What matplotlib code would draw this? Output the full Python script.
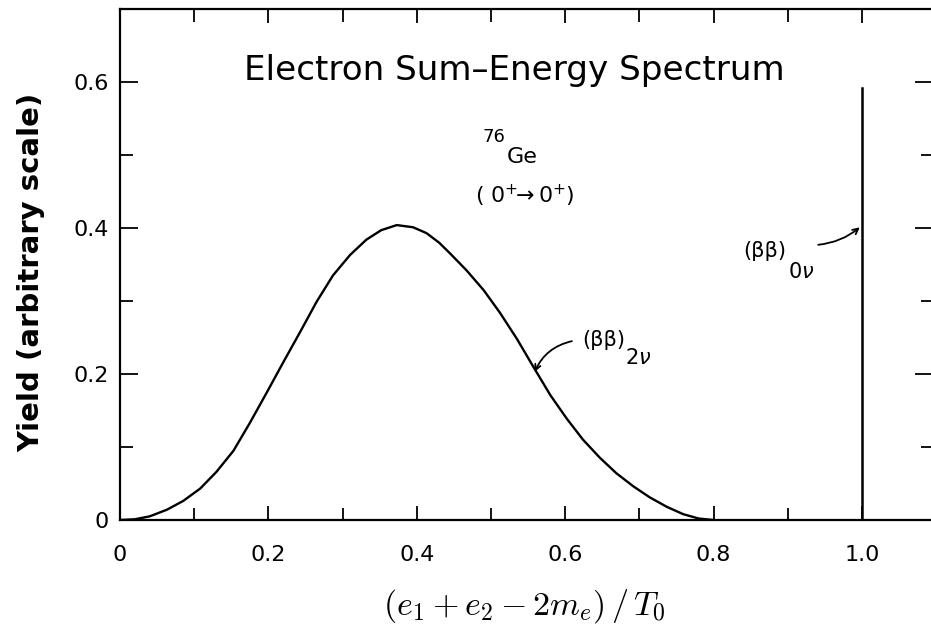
import matplotlib
matplotlib.use("Agg")
import matplotlib.pyplot as plt
from matplotlib.ticker import MultipleLocator, FixedLocator
import matplotlib.font_manager as fm

# --- data ---
x_2nu = [0.0, 0.02, 0.04, 0.063, 0.085, 0.108, 0.13, 0.153, 0.175, 0.198, 0.22, 0.243,
         0.265, 0.287, 0.31, 0.332, 0.352, 0.373, 0.395, 0.413, 0.43, 0.445, 0.467, 0.49,
         0.512, 0.535, 0.557, 0.58, 0.602, 0.624, 0.647, 0.669, 0.692, 0.714,
         0.737, 0.759, 0.78, 0.80]
y_2nu = [0.0, 0.001, 0.005, 0.014, 0.026, 0.043, 0.066, 0.095, 0.133, 0.175, 0.216, 0.258,
         0.299, 0.335, 0.363, 0.384, 0.397, 0.404, 0.401, 0.393, 0.380, 0.365, 0.342, 0.315,
         0.284, 0.248, 0.210, 0.171, 0.139, 0.110, 0.085, 0.064, 0.046, 0.031,
         0.018, 0.008, 0.002, 0.0]
x_0nu = [1.0, 1.0]
y_0nu = [0.0, 0.592]

x_major = [0.0, 0.2, 0.4, 0.6, 0.8, 1.0]
x_labels = ["0", "0.2", "0.4", "0.6", "0.8", "1.0"]
y_major = [0.0, 0.2, 0.4, 0.6]
y_labels = ["0", "0.2", "0.4", "0.6"]

names = {f.name for f in fm.fontManager.ttflist}
tick_font = "Liberation Sans Narrow" if "Liberation Sans Narrow" in names else "DejaVu Sans"

fig = plt.figure(figsize=(9.31, 6.30), dpi=100)
ax = fig.add_axes([120/931, 1-520/630, (933-120)/931, (520-9)/630])

ax.plot(x_2nu, y_2nu, color="black", lw=1.7, solid_joinstyle="round")
ax.plot(x_0nu, y_0nu, color="black", lw=1.8)

ax.set_xlim(0, (933-120)/742)
ax.set_ylim(0, (520-9)/730)

ax.xaxis.set_major_locator(FixedLocator(x_major))
ax.set_xticklabels(x_labels)
ax.xaxis.set_minor_locator(MultipleLocator(0.1))
ax.yaxis.set_major_locator(FixedLocator(y_major))
ax.set_yticklabels(y_labels)
ax.yaxis.set_minor_locator(MultipleLocator(0.1))
ax.tick_params(which="both", direction="in", top=True, right=True, width=1.3, color="black")
ax.tick_params(axis="x", which="major", length=10, pad=18)
ax.tick_params(axis="x", which="minor", length=9)
ax.tick_params(axis="y", which="major", length=13, pad=8)
ax.tick_params(axis="y", which="minor", length=9)
for lab in ax.get_xticklabels() + ax.get_yticklabels():
    lab.set_fontfamily(tick_font)
    lab.set_fontsize(16)
for s in ax.spines.values():
    s.set_linewidth(1.6)

ax.text(0.532, 0.616, "Electron Sum\u2013Energy Spectrum", ha="center", va="center",
        fontsize=24.6, family="DejaVu Sans")

ax.text(0.519, 0.518, "76", ha="right", va="baseline", fontsize=13)
ax.text(0.5216, 0.489, "Ge", ha="left", va="baseline", fontsize=16)
ax.text(0.546, 0.444, r"( 0$^{+}\!\!\rightarrow$0$^{+}$)", ha="center", va="center",
        fontsize=15.8, math_fontfamily="dejavusans")

ax.text(0.623, 0.247, "(\u03b2\u03b2)", ha="left", va="center", fontsize=15)
ax.text(0.681, 0.222, r"2$\nu$", ha="left", va="center", fontsize=15,
        math_fontfamily="dejavusans")
ax.annotate("", xy=(0.559, 0.203), xytext=(0.609, 0.245),
            arrowprops=dict(arrowstyle="->", color="black", lw=1.3,
                            connectionstyle="arc3,rad=0.25", shrinkA=0, shrinkB=0))

ax.text(0.840, 0.368, "(\u03b2\u03b2)", ha="left", va="center", fontsize=15)
ax.text(0.900, 0.340, r"0$\nu$", ha="left", va="center", fontsize=15,
        math_fontfamily="dejavusans")
ax.annotate("", xy=(0.997, 0.401), xytext=(0.941, 0.377),
            arrowprops=dict(arrowstyle="->", color="black", lw=1.3,
                            connectionstyle="arc3,rad=0.15", shrinkA=0, shrinkB=0))

fig.text(31/931, 1-272/630, "Yield (arbitrary scale)", rotation=90, ha="center",
         va="center", fontsize=21, fontweight="bold", family="DejaVu Sans")
fig.text(524/931, 1-606/630, r"$(e_1+e_2-2m_e)\,/\,T_0$", ha="center", va="center",
         fontsize=24.5, math_fontfamily="cm")

fig.savefig("out.png", dpi=100)
